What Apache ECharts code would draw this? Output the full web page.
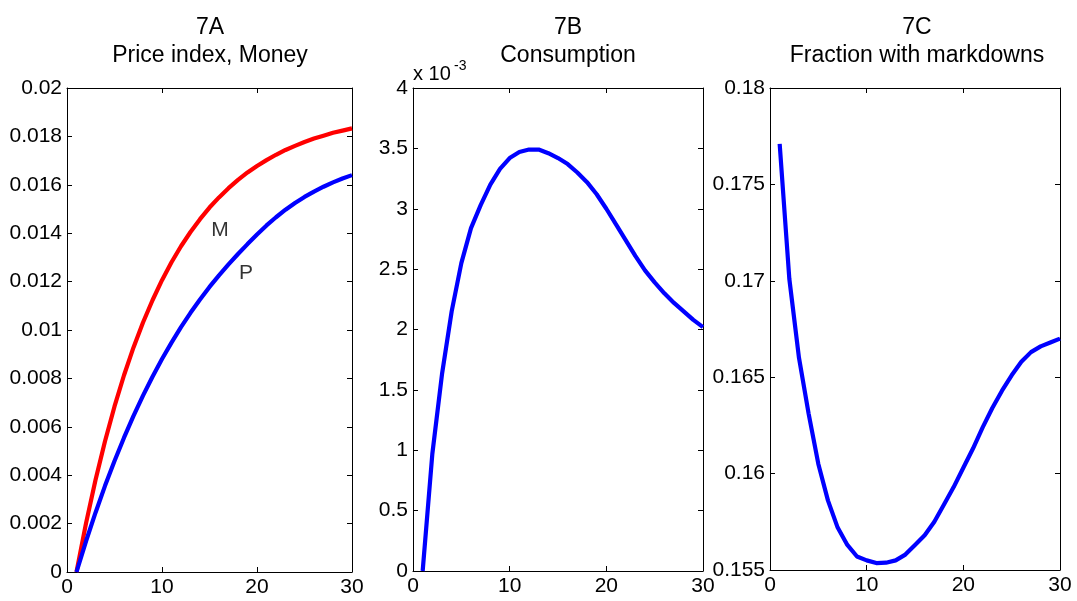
<!DOCTYPE html>
<html>
<head>
<meta charset="utf-8">
<script src="https://cdn.jsdelivr.net/npm/echarts@6/dist/echarts.min.js"></script>
<style>
  html, body { margin: 0; padding: 0; background: #ffffff; }
  #chart { width: 1077px; height: 601px; }
</style>
</head>
<body>
<div id="chart"></div>
<script>
// Impulse responses over 30 periods
const periods = [1, 2, 3, 4, 5, 6, 7, 8, 9, 10, 11, 12, 13, 14, 15,
                 16, 17, 18, 19, 20, 21, 22, 23, 24, 25, 26, 27, 28, 29, 30];

// 7A: money (M) and price index (P)
const money = [0, 0.00201, 0.0038, 0.0054, 0.00684, 0.00813, 0.00928, 0.01031, 0.01123, 0.01206,
               0.0128, 0.01346, 0.01405, 0.01458, 0.01506, 0.01548, 0.01586, 0.0162, 0.01651, 0.01678,
               0.01702, 0.01724, 0.01744, 0.01761, 0.01777, 0.01791, 0.01803, 0.01815, 0.01824, 0.01833];
const priceIndex = [0, 0.00127, 0.00245, 0.00356, 0.00459, 0.00555, 0.00645, 0.00729, 0.00807, 0.0088,
                    0.00948, 0.01012, 0.01071, 0.01126, 0.01178, 0.01226, 0.01271, 0.01314, 0.01355, 0.01395,
                    0.01432, 0.01466, 0.01497, 0.01525, 0.0155, 0.01572, 0.01592, 0.0161, 0.01626, 0.0164];

// 7B: consumption, in units of 10^-3
const consumption = [0, 0.97, 1.63, 2.15, 2.55, 2.84, 3.03, 3.20, 3.33, 3.42,
                     3.47, 3.49, 3.49, 3.46, 3.42, 3.37, 3.30, 3.22, 3.12, 3.00,
                     2.87, 2.74, 2.61, 2.49, 2.39, 2.30, 2.22, 2.15, 2.08, 2.02];

// 7C: fraction of prices with markdowns
const markdownFraction = [0.1771, 0.1701, 0.1660, 0.1631, 0.1605, 0.1586, 0.1572, 0.1563, 0.1557, 0.1555,
                          0.15536, 0.15538, 0.1555, 0.1558, 0.1563, 0.1568, 0.1575, 0.1584, 0.1593, 0.1603,
                          0.1613, 0.1624, 0.1634, 0.1643, 0.1651, 0.1658, 0.1663, 0.1666, 0.1668, 0.1670];

// Panel titles
const panelIds = ['7A', '7B', '7C'];
const panelNames = ['Price index, Money', 'Consumption', 'Fraction with markdowns'];

// Axis ranges [min, max, interval]
const xRange = [0, 30, 10];
const yRanges = [[0, 0.02, 0.002], [0, 4, 0.5], [0.155, 0.18, 0.005]];

// Curve labels in panel 7A: [period, value, text]
const curveLabels = [[16.1, 0.01412, 'M'], [18.84, 0.01234, 'P']];

const FONT = '"Liberation Sans", Arial, Helvetica, sans-serif';
const chart = echarts.init(document.getElementById('chart'), null, { renderer: 'canvas' });

const grids = [
  { left: 67, top: 88, width: 285, height: 484 },
  { left: 413, top: 88, width: 290, height: 483 },
  { left: 770, top: 88, width: 290, height: 482 }
];
const titleCenters = [210, 568, 917];

function makeAxis(gridIndex, range, position, showLabels) {
  const isX = position === 'bottom' || position === 'top';
  return {
    type: 'value',
    gridIndex: gridIndex,
    position: position,
    min: range[0],
    max: range[1],
    interval: range[2],
    axisLine: { show: true, onZero: false, lineStyle: { color: '#000', width: 1 } },
    axisTick: { show: true, inside: true, length: 5, lineStyle: { color: '#000', width: 1 } },
    splitLine: { show: false },
    axisLabel: {
      show: showLabels,
      color: '#000',
      fontFamily: FONT,
      fontSize: 21,
      margin: isX ? 5 : 5,
      showMinLabel: true,
      showMaxLabel: true
    }
  };
}

const xAxes = [];
const yAxes = [];
grids.forEach((g, i) => {
  xAxes.push(makeAxis(i, xRange, 'bottom', true));
  xAxes.push(makeAxis(i, xRange, 'top', false));
  yAxes.push(makeAxis(i, yRanges[i], 'left', true));
  yAxes.push(makeAxis(i, yRanges[i], 'right', false));
});

function pairs(values) {
  return periods.map((t, k) => [t, values[k]]);
}

function lineSeries(panel, values, color) {
  return {
    type: 'line',
    xAxisIndex: panel * 2,
    yAxisIndex: panel * 2,
    data: pairs(values),
    showSymbol: false,
    symbol: 'none',
    smooth: false,
    lineStyle: { color: color, width: 4.2 },
    itemStyle: { color: color },
    silent: true,
    animation: false
  };
}

const series = [
  lineSeries(0, money, '#ff0000'),
  lineSeries(0, priceIndex, '#0000ff'),
  lineSeries(1, consumption, '#0000ff'),
  lineSeries(2, markdownFraction, '#0000ff'),
  {
    type: 'scatter',
    xAxisIndex: 0,
    yAxisIndex: 0,
    symbolSize: 0,
    data: curveLabels.map(d => ({ value: [d[0], d[1]], name: d[2] })),
    label: {
      show: true,
      position: 'inside',
      formatter: p => p.name,
      color: '#000',
      fontFamily: FONT,
      fontSize: 21
    },
    silent: true,
    animation: false
  }
];

const titles = panelIds.map((id, i) => ({
  text: id + '\n' + panelNames[i],
  left: titleCenters[i],
  top: 14,
  textAlign: 'center',
  padding: 0,
  textStyle: {
    color: '#000',
    fontFamily: FONT,
    fontSize: 23,
    fontWeight: 'normal',
    lineHeight: 27.5
  }
}));

chart.setOption({
  backgroundColor: '#ffffff',
  animation: false,
  title: titles,
  grid: grids,
  xAxis: xAxes,
  yAxis: yAxes,
  series: series,
  graphic: [
    {
      type: 'text',
      left: 413,
      top: 64,
      style: { text: 'x 10', fill: '#000', font: '20px ' + FONT }
    },
    {
      type: 'text',
      left: 454,
      top: 59,
      style: { text: '-3', fill: '#000', font: '14px ' + FONT }
    }
  ]
});
</script>
</body>
</html>
